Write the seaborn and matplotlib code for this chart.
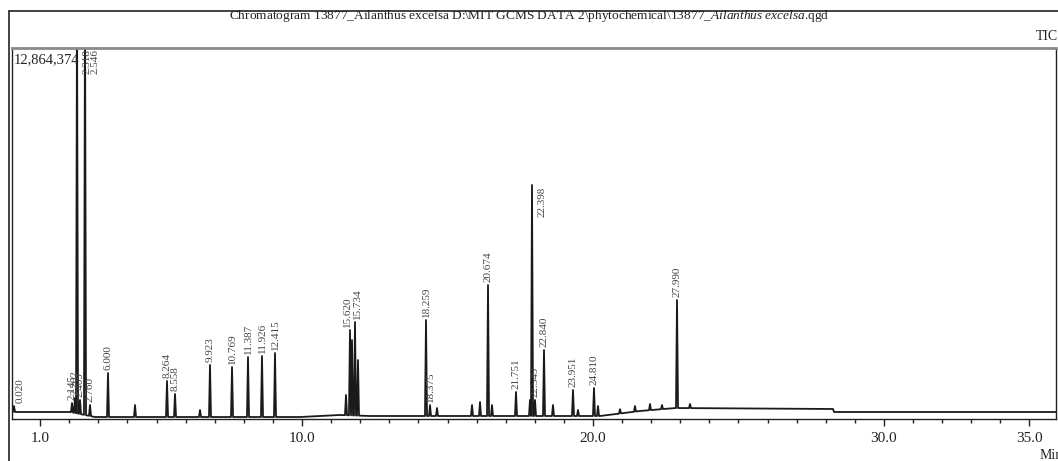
import numpy as np
import pandas as pd
import matplotlib
matplotlib.use("Agg")
import matplotlib.pyplot as plt
from matplotlib.lines import Line2D
import seaborn as sns

# ---------------- data ----------------
title_text = (r"Chromatogram 13877_Ailanthus excelsa D:\MIT GCMS DATA 2\phytochemical\13877_"
              r"$\mathit{Ailanthus\ excelsa}$.qgd")
y_max_label = "12,864,374"
y_max = 12864374

# baseline of the trace (axis time units, intensity)
baseline_t = [0.034, 2.027, 2.887, 9.931, 11.306, 12.337, 20.241, 21.615, 22.818, 28.247, 28.282, 35.911]
baseline_h = [243e3, 243e3, 69e3, 69e3, 139e3, 104e3, 104e3, 277e3, 381e3, 347e3, 243e3, 243e3]

# labelled peaks
peak_labels = ["0.020", "2.145", "2.202", "2.318", "2.409", "2.546", "2.760", "6.000", "8.264", "8.558",
               "9.923", "10.769", "11.387", "11.926", "12.415", "15.620", "15.734", "18.259", "18.375",
               "20.674", "21.751", "22.398", "22.549", "22.840", "23.951", "24.810", "27.990"]
peak_time = [0.103, 2.096, 2.199, 2.268, 2.371, 2.543, 2.715, 3.333, 5.361, 5.636,
             6.838, 7.595, 8.144, 8.625, 9.072, 11.649, 11.821, 14.261, 14.399,
             16.392, 17.354, 17.904, 18.007, 18.316, 19.313, 20.034, 22.887]
peak_height = [450e3, 555e3, 728e3, 14.5e6, 659e3, 14.5e6, 485e3, 1595e3, 1318e3, 867e3,
               1872e3, 1803e3, 2150e3, 2185e3, 2289e3, 3086e3, 3363e3, 3433e3, 485e3,
               4646e3, 936e3, 8114e3, 659e3, 2393e3, 1006e3, 1075e3, 4126e3]

# unlabelled minor peaks
minor_time = [4.261, 6.495, 11.512, 11.718, 11.924, 14.639, 15.842, 16.117, 16.529, 17.835,
              18.625, 19.485, 20.172, 20.928, 21.443, 21.959, 22.371, 23.333]
minor_height = [485e3, 312e3, 832e3, 2739e3, 2046e3, 381e3, 485e3, 589e3, 485e3, 659e3,
                485e3, 312e3, 450e3, 340e3, 450e3, 520e3, 485e3, 520e3]

tick_labels = ["1.0", "10.0", "20.0", "30.0", "35.0"]
tick_values = [1.0, 10.0, 20.0, 30.0, 35.0]

# label placement style: 'right' = beside the apex, otherwise above
label_right = {"2.318", "2.546", "22.398"}
label_dx = {"0.020": 4.5, "15.620": -1.5, "15.734": 1.5}

# ---------------- build trace ----------------
half_w = 0.035
pts_t = list(baseline_t)
pts_h = list(baseline_h)
for t, h in list(zip(peak_time, peak_height)) + list(zip(minor_time, minor_height)):
    b_l = np.interp(t - half_w, baseline_t, baseline_h)
    b_r = np.interp(t + half_w, baseline_t, baseline_h)
    pts_t += [t - half_w, t, t + half_w]
    pts_h += [b_l, h, b_r]
trace = pd.DataFrame({"time": pts_t, "intensity": pts_h}).sort_values("time").reset_index(drop=True)

# ---------------- figure ----------------
sns.set_theme(style="white")
plt.rcParams["font.family"] = ["Liberation Serif", "DejaVu Serif"]
plt.rcParams["mathtext.fontset"] = "custom"
plt.rcParams["mathtext.rm"] = "Liberation Serif"
plt.rcParams["mathtext.it"] = "Liberation Serif:italic"

W, H = 1058, 461
fig = plt.figure(figsize=(W / 100, H / 100), dpi=100)
ax = fig.add_axes([12 / W, 1 - 419 / H, (1056 - 12) / W, (419 - 48) / H])

sns.lineplot(data=trace, x="time", y="intensity", ax=ax, estimator=None, sort=False,
             color="#1a1a1a", linewidth=1.3)

ax.set_xlim(0.034, 35.911)
ax.set_ylim(0, y_max)
ax.set_xlabel("")
ax.set_ylabel("")
ax.set_yticks([])
ax.set_xticks(tick_values)
ax.set_xticklabels(tick_labels)
ax.set_xticks(np.arange(1, 36, 1.0), minor=True)
ax.tick_params(axis="x", which="major", direction="out", length=5, width=1, color="#222",
               labelsize=11, pad=4, bottom=True, labelcolor="#222")
ax.tick_params(axis="x", which="minor", direction="out", length=3, width=1, color="#222", bottom=True)

for side in ["left", "right", "bottom"]:
    ax.spines[side].set_color("#222")
    ax.spines[side].set_linewidth(1.0)
ax.spines["top"].set_color("#8a8a8a")
ax.spines["top"].set_linewidth(2.0)

# peak labels
for lab, t, h in zip(peak_labels, peak_time, peak_height):
    dx = label_dx.get(lab, 0)
    if lab in label_right:
        yy = min(h, y_max)
        ax.annotate(lab, (t, yy), xytext=(4 + dx, -1), textcoords="offset points",
                    rotation=90, ha="left", va="top", fontsize=8, color="#444")
    else:
        ax.annotate(lab, (t, h), xytext=(dx, 2), textcoords="offset points",
                    rotation=90, ha="center", va="bottom", fontsize=8, color="#444")

# texts
ax.text(0.002, 0.985, y_max_label, transform=ax.transAxes, ha="left", va="top",
        fontsize=10.5, color="#222")
fig.text(529 / W, 1 - 16 / H, title_text, ha="center", va="center", fontsize=9.6, color="#222")
fig.text(1036 / W, 1 - 37 / H, "TIC", ha="left", va="center", fontsize=10, color="#222")
fig.text(1040 / W, 1 - 455 / H, "Min", ha="left", va="center", fontsize=10, color="#222")

# outer frame
fig.add_artist(Line2D([9 / W, 1.0], [1 - 11 / H, 1 - 11 / H], transform=fig.transFigure,
                      color="#222", linewidth=1.2))
fig.add_artist(Line2D([9 / W, 9 / W], [0, 1 - 11 / H], transform=fig.transFigure,
                      color="#222", linewidth=1.2))

fig.savefig("out.png", dpi=100, facecolor="white")
